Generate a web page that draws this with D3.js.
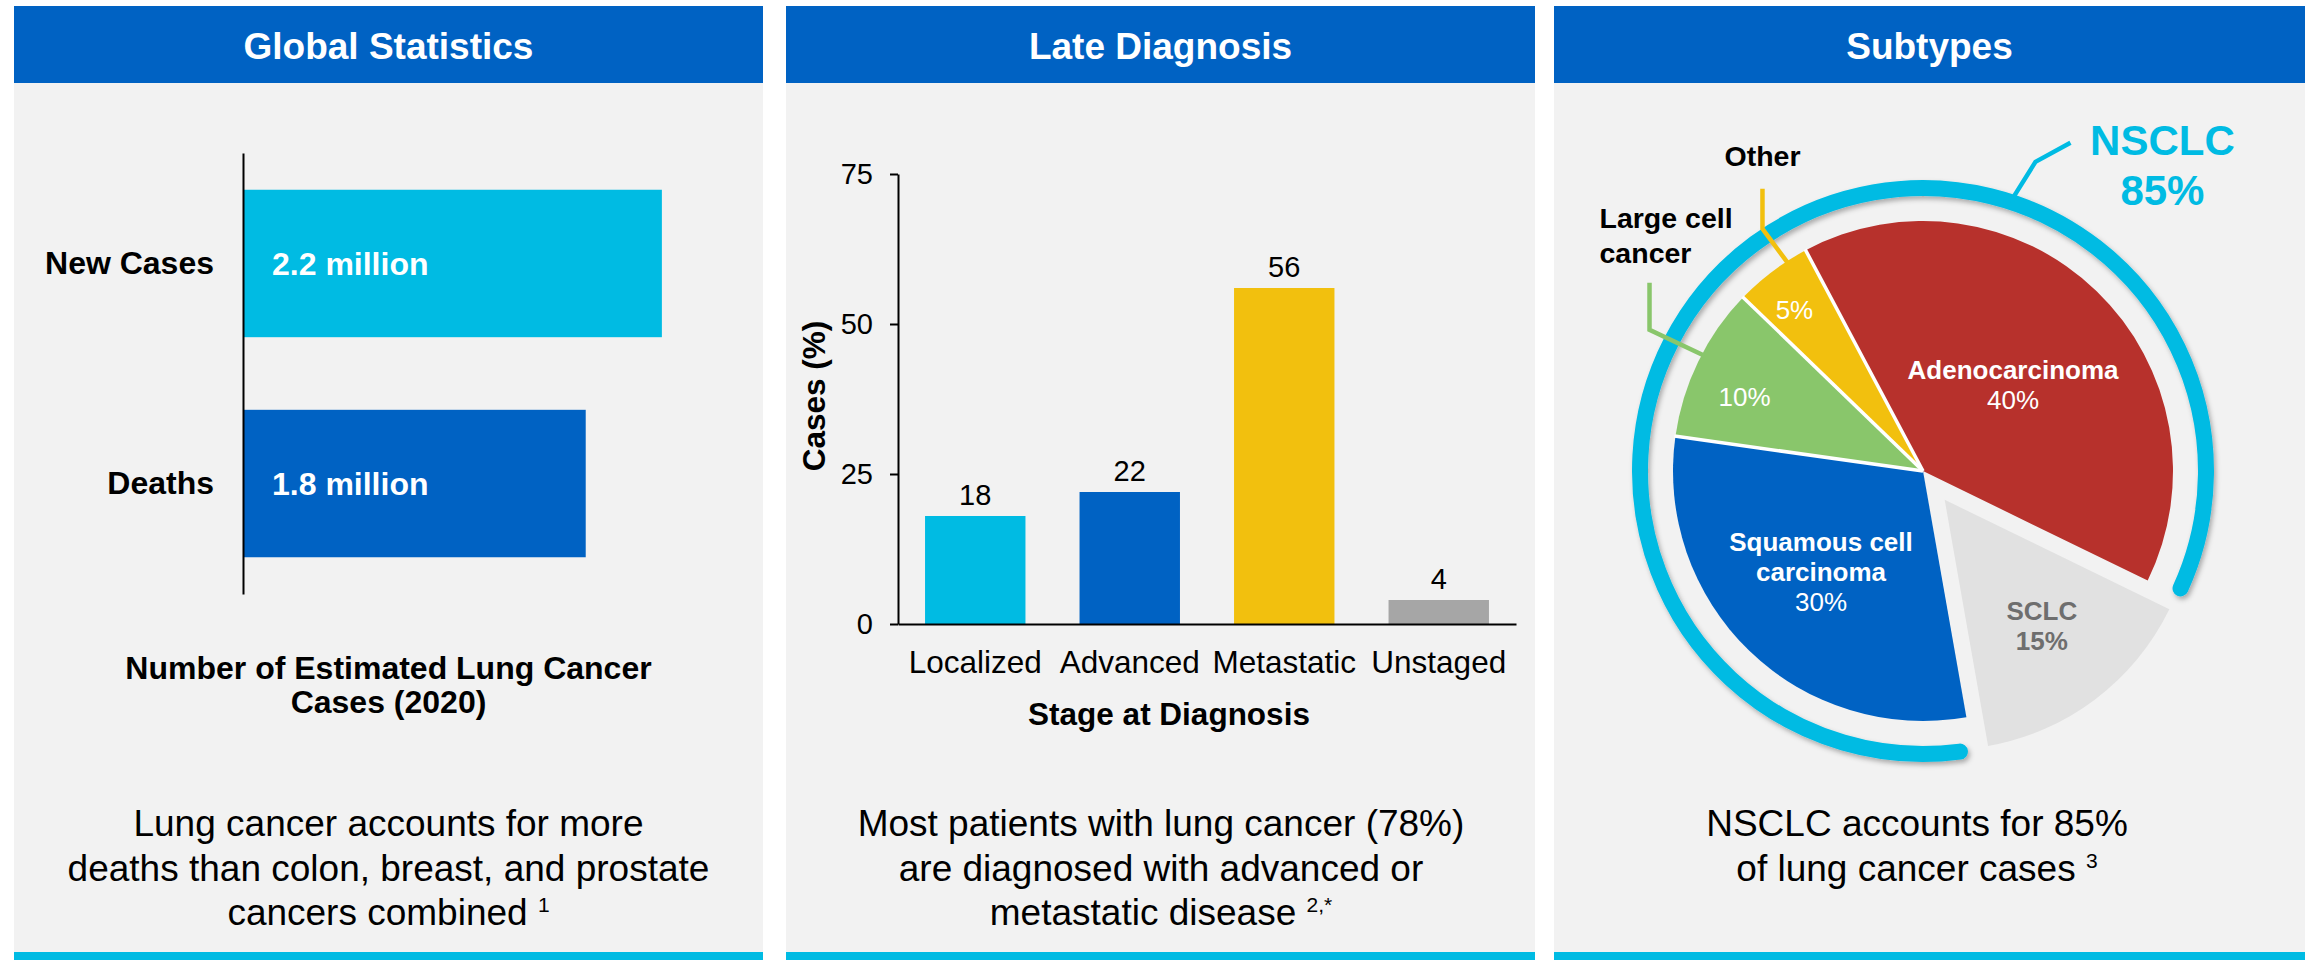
<!DOCTYPE html>
<html><head><meta charset="utf-8">
<script src="https://cdn.jsdelivr.net/npm/d3@7"></script>
<style>
body{margin:0;background:#fff}
svg{display:block}
text{font-family:"Liberation Sans", Arial, Helvetica, sans-serif}
</style>
</head><body>
<svg id="c" width="2305" height="960"></svg>
<script>
// ---------- DATA ----------
const panelTitles = ["Global Statistics", "Late Diagnosis", "Subtypes"];

const globalCategories = ["New Cases", "Deaths"];
const globalValues = [2.2, 1.8];
const globalValueLabels = ["2.2 million", "1.8 million"];
const globalTitle = ["Number of Estimated Lung Cancer", "Cases (2020)"];

const stageCategories = ["Localized", "Advanced", "Metastatic", "Unstaged"];
const stageValues = [18, 22, 56, 4];
const stageTicks = [0, 25, 50, 75];
const stageYLabel = "Cases (%)";
const stageXLabel = "Stage at Diagnosis";

const subtypeNames = ["Adenocarcinoma", "SCLC", "Squamous cell carcinoma", "Large cell cancer", "Other"];
const subtypeValues = [40, 15, 30, 10, 5];
const nsclcShare = 85;

const footLines = [
  ["Lung cancer accounts for more", "deaths than colon, breast, and prostate", "cancers combined"],
  ["Most patients with lung cancer (78%)", "are diagnosed with advanced or", "metastatic disease"],
  ["NSCLC accounts for 85%", "of lung cancer cases"]
];
const footRefs = ["1", "2,*", "3"];

// ---------- STYLE / LAYOUT ----------
const C = {
  header: "#0062C3", cyan: "#00BBE3", blue: "#0062C3", yellow: "#F2C00E",
  gray: "#A6A6A6", panel: "#F2F2F2", red: "#B7312C", green: "#89C66B",
  sclc: "#E1E1E1", sclcText: "#6E6E6E"
};
const svg = d3.select("#c");
const defs = svg.append("defs");
const f = defs.append("filter").attr("id", "shadow").attr("x", "-20%").attr("y", "-20%").attr("width", "140%").attr("height", "140%");
f.append("feDropShadow").attr("dx", 2).attr("dy", 3).attr("stdDeviation", 2.5).attr("flood-color", "#000").attr("flood-opacity", 0.3);

const panels = [{x: 14, w: 749}, {x: 786, w: 749}, {x: 1554, w: 751}];
panels.forEach((p, i) => {
  svg.append("rect").attr("x", p.x).attr("y", 6).attr("width", p.w).attr("height", 77).attr("fill", C.header);
  svg.append("rect").attr("x", p.x).attr("y", 83).attr("width", p.w).attr("height", 869).attr("fill", C.panel);
  svg.append("rect").attr("x", p.x).attr("y", 952).attr("width", p.w).attr("height", 8).attr("fill", C.cyan);
  svg.append("text").attr("x", p.x + p.w / 2).attr("y", 59).attr("text-anchor", "middle")
    .attr("fill", "#fff").attr("font-weight", "bold").attr("font-size", 37).text(panelTitles[i]);
});

// ---------- PANEL 1 : horizontal bars ----------
const gx = d3.scaleLinear().domain([0, 2.5]).range([243, 719]);
const gy = d3.scaleBand().domain(globalCategories).range([153, 594]).paddingInner(0.33).paddingOuter(0.167);
const gColors = [C.cyan, C.blue];
svg.append("g").selectAll("rect").data(globalValues).join("rect")
  .attr("x", gx(0)).attr("y", (d, i) => gy(globalCategories[i]))
  .attr("width", d => gx(d) - gx(0)).attr("height", gy.bandwidth())
  .attr("fill", (d, i) => gColors[i]);
const gAxis = svg.append("g").attr("transform", `translate(${gx(0)},0)`)
  .call(d3.axisLeft(gy).tickSize(0).tickPadding(29).tickSizeOuter(0));
gAxis.select(".domain").attr("stroke", "#000").attr("stroke-width", 2);
gAxis.selectAll("text").attr("font-size", 32).attr("font-weight", "bold").attr("fill", "#000")
  .attr("font-family", '"Liberation Sans", Arial, sans-serif');
svg.append("g").selectAll("text").data(globalValues).join("text")
  .attr("x", gx(0) + 29).attr("y", (d, i) => gy(globalCategories[i]) + gy.bandwidth() / 2)
  .attr("dy", "0.36em").attr("fill", "#fff").attr("font-weight", "bold").attr("font-size", 32)
  .text((d, i) => globalValueLabels[i]);
globalTitle.forEach((t, i) => {
  svg.append("text").attr("x", 388.5).attr("y", 679 + i * 34).attr("text-anchor", "middle")
    .attr("font-weight", "bold").attr("font-size", 32).attr("fill", "#000").text(t);
});

// ---------- PANEL 2 : vertical bars ----------
const sx = d3.scaleBand().domain(stageCategories).range([898, 1516]).paddingInner(0.35).paddingOuter(0.175);
const sy = d3.scaleLinear().domain([0, 75]).range([624, 174]);
const sColors = [C.cyan, C.blue, C.yellow, C.gray];
svg.append("g").selectAll("rect").data(stageValues).join("rect")
  .attr("x", (d, i) => sx(stageCategories[i])).attr("y", d => sy(d))
  .attr("width", sx.bandwidth()).attr("height", d => sy(0) - sy(d))
  .attr("fill", (d, i) => sColors[i]);
svg.append("g").selectAll("text").data(stageValues).join("text")
  .attr("x", (d, i) => sx(stageCategories[i]) + sx.bandwidth() / 2).attr("y", d => sy(d) - 11)
  .attr("text-anchor", "middle").attr("font-size", 29).attr("fill", "#000").text(d => d);
const yAx = svg.append("g").attr("transform", `translate(${sx.range()[0]},0)`)
  .call(d3.axisLeft(sy).tickValues(stageTicks).tickSize(8).tickPadding(17).tickSizeOuter(0));
yAx.select(".domain").attr("stroke", "#000").attr("stroke-width", 2);
yAx.selectAll(".tick line").attr("stroke", "#000").attr("stroke-width", 2);
yAx.selectAll("text").attr("font-size", 29).attr("fill", "#000").attr("font-family", '"Liberation Sans", Arial, sans-serif');
const xAx = svg.append("g").attr("transform", `translate(0,${sy(0)})`)
  .call(d3.axisBottom(sx).tickSize(0).tickPadding(27).tickSizeOuter(0));
xAx.select(".domain").attr("stroke", "#000").attr("stroke-width", 2);
xAx.selectAll("text").attr("font-size", 31.5).attr("fill", "#000").attr("font-family", '"Liberation Sans", Arial, sans-serif');
svg.append("text").attr("x", 1169).attr("y", 725).attr("text-anchor", "middle")
  .attr("font-weight", "bold").attr("font-size", 31.5).text(stageXLabel);
svg.append("text").attr("transform", "translate(825,396) rotate(-90)").attr("text-anchor", "middle")
  .attr("font-weight", "bold").attr("font-size", 31.5).text(stageYLabel);

// ---------- PANEL 3 : pie ----------
const cx = 1923, cy = 471, R = 250;
const deg = Math.PI / 180;
const a0 = -28 * deg;
const pie = d3.pie().sort(null).value(d => d).startAngle(a0).endAngle(a0 + 2 * Math.PI);
const arcs = pie(subtypeValues);
const arcGen = d3.arc().innerRadius(0).outerRadius(R);
const explode = [0, 36, 0, 0, 0];
const fills = [C.red, C.sclc, C.blue, C.green, C.yellow];
const polar = (a, r) => [Math.sin(a) * r, -Math.cos(a) * r];
const g3 = svg.append("g").attr("transform", `translate(${cx},${cy})`);

g3.selectAll("path.slice").data(arcs).join("path").attr("class", "slice")
  .attr("d", arcGen).attr("fill", (d, i) => fills[i])
  .attr("transform", (d, i) => {
    const [dx, dy] = polar((d.startAngle + d.endAngle) / 2, explode[i]);
    return `translate(${dx},${dy})`;
  });
// white separators between adjacent NSCLC slices
[arcs[0].startAngle, arcs[3].startAngle, arcs[4].startAngle].forEach(a => {
  const [x, y] = polar(a, R + 1);
  g3.append("line").attr("x1", 0).attr("y1", 0).attr("x2", x).attr("y2", y)
    .attr("stroke", "#fff").attr("stroke-width", 3.5);
});

// NSCLC ring
const ringR = 283;
const ringStart = arcs[2].startAngle + 2.5 * deg;
const ringEnd = arcs[0].endAngle + 2 * Math.PI - 1.5 * deg;
const rp = d3.path();
rp.arc(0, 0, ringR, ringStart - Math.PI / 2, ringEnd - Math.PI / 2, false);
g3.append("path").attr("d", rp.toString()).attr("fill", "none").attr("stroke", C.cyan)
  .attr("stroke-width", 16).attr("stroke-linecap", "round").attr("filter", "url(#shadow)");

// slice labels (angle fraction within slice, radius from pie centre)
const labelPos = [{f: 0.516, r: 124.5}, {f: 0.49, r: 195}, {f: 0.512, r: 143.5}, {f: 0.40, r: 193}, {f: 0.41, r: 206}];
const labelLines = [
  [{t: "Adenocarcinoma", b: true}, {t: "40%", b: false}],
  [{t: "SCLC", b: true}, {t: "15%", b: true}],
  [{t: "Squamous cell", b: true}, {t: "carcinoma", b: true}, {t: "30%", b: false}],
  [{t: "10%", b: false}],
  [{t: "5%", b: false}]
];
arcs.forEach((d, i) => {
  const a = d.startAngle + (d.endAngle - d.startAngle) * labelPos[i].f;
  const [x, y] = polar(a, labelPos[i].r);
  const lines = labelLines[i];
  const col = i === 1 ? C.sclcText : "#fff";
  lines.forEach((ln, j) => {
    g3.append("text").attr("x", x).attr("y", y + (j - (lines.length - 1) / 2) * 30 + 9)
      .attr("text-anchor", "middle").attr("font-size", 26).attr("font-weight", ln.b ? "bold" : "normal")
      .attr("fill", col).text(ln.t);
  });
});

// leader lines & outside labels
function leader(start, offs, color) {
  const pts = [start];
  offs.forEach(o => { const p = pts[pts.length - 1]; pts.push([p[0] + o[0], p[1] + o[1]]); });
  g3.append("path").attr("d", d3.line()(pts)).attr("fill", "none").attr("stroke", color)
    .attr("stroke-width", 4.5).attr("stroke-linejoin", "miter");
  return pts;
}
// Other
const pOther = leader(polar(327 * deg, R - 3), [[-26, -35], [0, -40]], C.yellow);
g3.append("text").attr("x", pOther[2][0]).attr("y", pOther[2][1] - 23).attr("text-anchor", "middle")
  .attr("font-weight", "bold").attr("font-size", 28.5).attr("fill", "#000").text(subtypeNames[4]);
// Large cell
const pLarge = leader(polar(297.8 * deg, R - 3), [[-55, -26], [0, -47]], C.green);
["Large cell", "cancer"].forEach((t, j) => {
  g3.append("text").attr("x", pLarge[2][0] - 50).attr("y", pLarge[2][1] - 55 + j * 35)
    .attr("font-weight", "bold").attr("font-size", 28.5).attr("fill", "#000").text(t);
});
// NSCLC
const pNs = leader(polar(18 * deg, ringR), [[25, -40], [35, -19]], C.cyan);
["NSCLC", nsclcShare + "%"].forEach((t, j) => {
  g3.append("text").attr("x", pNs[2][0] + 92).attr("y", pNs[2][1] + 12 + j * 50).attr("text-anchor", "middle")
    .attr("font-weight", "bold").attr("font-size", 42).attr("fill", C.cyan).text(t);
});

// ---------- FOOTNOTES ----------
const footX = [388.5, 1161, 1917];
footLines.forEach((lines, i) => {
  lines.forEach((t, j) => {
    const tx = svg.append("text").attr("x", footX[i]).attr("y", 836 + j * 44.5)
      .attr("text-anchor", "middle").attr("font-size", 37).attr("fill", "#000");
    tx.append("tspan").text(t);
    if (j === lines.length - 1) {
      tx.append("tspan").text(" ");
      tx.append("tspan").attr("font-size", 21).attr("dy", -13).text(footRefs[i]);
    }
  });
});
</script>
</body></html>
